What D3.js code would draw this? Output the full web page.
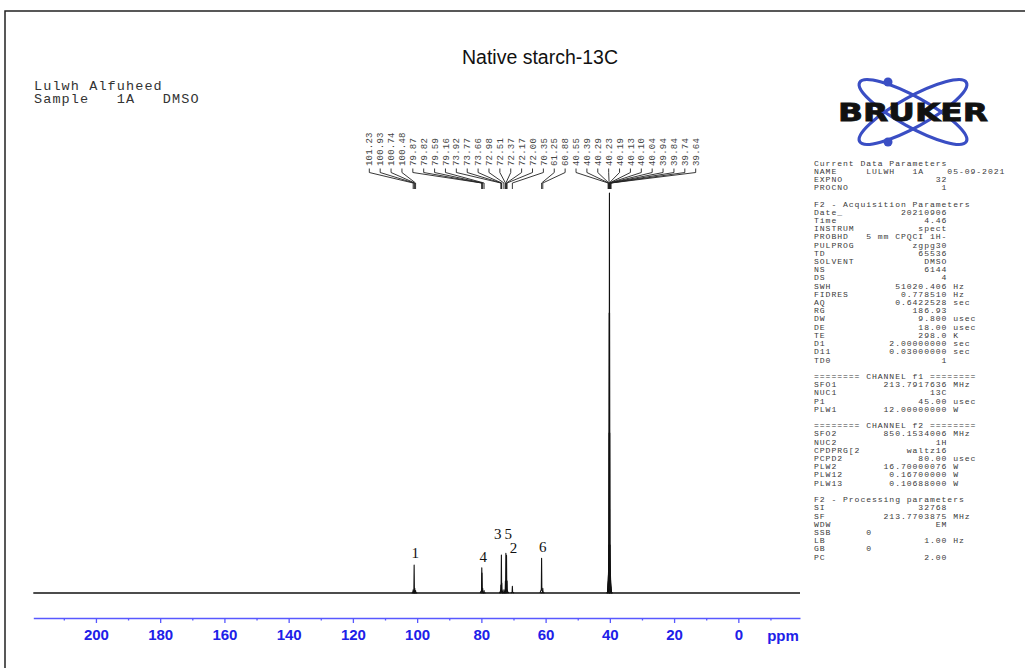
<!DOCTYPE html>
<html>
<head>
<meta charset="utf-8">
<script src="https://cdn.jsdelivr.net/npm/d3@7"></script>
<style>
  body { margin: 0; background: #fff; }
  svg text { white-space: pre; }
</style>
</head>
<body>
<div id="chart"></div>
<script>
// picked peaks (ppm) printed above the spectrum
const peakList = [101.23, 100.93, 100.74, 100.48, 79.87, 79.82, 79.59, 79.16,
  73.92, 73.77, 73.66, 72.98, 72.51, 72.37, 72.17, 72.00, 70.35, 61.25, 60.88,
  40.55, 40.39, 40.29, 40.23, 40.19, 40.13, 40.10, 40.04, 39.94, 39.84, 39.74, 39.64];
// relative intensity of each picked peak (DMSO top = 100)
const peakHeights = [0.8, 7, 1.2, 0.6, 6.3, 5, 1.2, 0.6,
  2, 9.5, 2.5, 0.8, 3, 9.9, 9.4, 3, 1.7, 8.7, 1.2,
  1, 3, 12, 40, 70, 100, 70, 40, 12, 3, 1.5, 0.8];

// carbon assignments written over the peaks
const assignLabels = ['1', '4', '3', '5', '2', '6'];
const assignPpm = [100.6, 79.4, 74.9, 71.6, 70.0, 60.9];
const assignLevel = [8.75, 7.75, 13.5, 13.5, 10, 10.25];

const majorTicks = [200, 180, 160, 140, 120, 100, 80, 60, 40, 20, 0];
const minorTicks = [210, 190, 170, 150, 130, 110, 90, 70, 50, 30, 10, -10];
const ppmRange = [219.5, -19.2];

const title = 'Native starch-13C';
const headerLines = ['Lulwh Alfuheed', 'Sample   1A   DMSO'];

// acquisition / processing parameter panel
const row = (label, value, unit) =>
  label.padEnd(23 - value.length) + value + (unit ? ' ' + unit : '');
const paramLines = [
  'Current Data Parameters',
  'NAME     LULWH   1A    05-09-2021',
  row('EXPNO', '32'),
  row('PROCNO', '1'),
  '',
  'F2 - Acquisition Parameters',
  row('Date_', '20210906'),
  row('Time', '4.46'),
  row('INSTRUM', 'spect'),
  row('PROBHD', '5 mm CPQCI 1H-'),
  row('PULPROG', 'zgpg30'),
  row('TD', '65536'),
  row('SOLVENT', 'DMSO'),
  row('NS', '6144'),
  row('DS', '4'),
  row('SWH', '51020.406', 'Hz'),
  row('FIDRES', '0.778510', 'Hz'),
  row('AQ', '0.6422528', 'sec'),
  row('RG', '186.93'),
  row('DW', '9.800', 'usec'),
  row('DE', '18.00', 'usec'),
  row('TE', '298.0', 'K'),
  row('D1', '2.00000000', 'sec'),
  row('D11', '0.03000000', 'sec'),
  row('TD0', '1'),
  '',
  '======== CHANNEL f1 ========',
  row('SFO1', '213.7917636', 'MHz'),
  row('NUC1', '13C'),
  row('P1', '45.00', 'usec'),
  row('PLW1', '12.00000000', 'W'),
  '',
  '======== CHANNEL f2 ========',
  row('SFO2', '850.1534006', 'MHz'),
  row('NUC2', '1H'),
  row('CPDPRG[2', 'waltz16'),
  row('PCPD2', '80.00', 'usec'),
  row('PLW2', '16.70000076', 'W'),
  row('PLW12', '0.16700000', 'W'),
  row('PLW13', '0.10688000', 'W'),
  '',
  'F2 - Processing parameters',
  row('SI', '32768'),
  row('SF', '213.7703875', 'MHz'),
  row('WDW', 'EM'),
  'SSB      0',
  row('LB', '1.00', 'Hz'),
  'GB       0',
  row('PC', '2.00'),
];

const width = 1025;
const height = 668;

const svg = d3.select('#chart')
    .append('svg')
    .attr('width', width)
    .attr('height', height);

svg.append('rect').attr('width', width).attr('height', height).attr('fill', '#fff');

// page frame
svg.append('path')
    .attr('d', 'M5,668 V11 H1025')
    .attr('fill', 'none')
    .attr('stroke', '#222')
    .attr('stroke-width', 1.5);

// scales
const x = d3.scaleLinear().domain(ppmRange).range([33.3, 800]);
const y = d3.scaleLinear().domain([0, 100]).range([593, 193]);

// title and header
svg.append('text')
    .attr('x', 540).attr('y', 64)
    .attr('text-anchor', 'middle')
    .attr('font-family', 'Liberation Sans, Arial, sans-serif')
    .attr('font-size', 19.5)
    .attr('fill', '#111')
    .text(title);

svg.selectAll('.header')
    .data(headerLines)
    .enter().append('text')
    .attr('class', 'header')
    .attr('x', 34)
    .attr('y', (d, i) => 90 + i * 13.3)
    .attr('font-family', 'Liberation Mono, monospace')
    .attr('font-size', 13.5)
    .attr('letter-spacing', 1.1)
    .attr('fill', '#333')
    .text((d) => d);

// spectrum baseline + peaks
const line = d3.line().x((d) => x(d[0])).y((d) => y(d[1]));
svg.append('path')
    .attr('d', line([[ppmRange[0], 0], [ppmRange[1], 0]]))
    .attr('fill', 'none')
    .attr('stroke', '#111')
    .attr('stroke-width', 1.3);

const w = 0.2;
svg.selectAll('.peak')
    .data(peakList)
    .enter().append('path')
    .attr('class', 'peak')
    .attr('d', (d, i) => line([[d + w * 2.5, 0], [d + w * 0.4, peakHeights[i] * 0.1],
      [d, peakHeights[i]], [d - w * 0.4, peakHeights[i] * 0.1], [d - w * 2.5, 0]]))
    .attr('fill', 'none')
    .attr('stroke', '#111')
    .attr('stroke-width', 1.1)
    .attr('stroke-linejoin', 'round');

// assignment numbers
svg.selectAll('.assign')
    .data(assignLabels)
    .enter().append('text')
    .attr('class', 'assign')
    .attr('x', (d, i) => x(assignPpm[i]))
    .attr('y', (d, i) => y(assignLevel[i]))
    .attr('text-anchor', 'middle')
    .attr('font-family', 'Liberation Serif, Times New Roman, serif')
    .attr('font-size', 15)
    .attr('fill', '#111')
    .text((d) => d);

// peak pick labels with connector lines
const lx = d3.scalePoint().domain(d3.range(peakList.length)).range([369.3, 695.7]);
svg.selectAll('.pick-line')
    .data(peakList)
    .enter().append('path')
    .attr('class', 'pick-line')
    .attr('d', (d, i) => `M${lx(i)},168.5 V172.5 L${x(d)},183 V189`)
    .attr('fill', 'none')
    .attr('stroke', '#222')
    .attr('stroke-width', 0.9);

svg.selectAll('.pick')
    .data(peakList)
    .enter().append('text')
    .attr('class', 'pick')
    .attr('transform', (d, i) => `translate(${lx(i)},166) rotate(-90)`)
    .attr('dy', '0.35em')
    .attr('font-family', 'Liberation Mono, monospace')
    .attr('font-size', 9)
    .attr('letter-spacing', 0.2)
    .attr('fill', '#444')
    .text((d) => d.toFixed(2));

// ppm axis
const axisG = svg.append('g').attr('transform', 'translate(0,618)');
axisG.append('g')
    .call(d3.axisBottom(x).tickValues(minorTicks).tickSize(2.5).tickSizeOuter(0).tickFormat(''))
    .call((g) => g.select('.domain').remove());
axisG.append('g')
    .call(d3.axisBottom(x).tickValues(majorTicks).tickSize(5).tickSizeOuter(0).tickPadding(6));
axisG.selectAll('.domain').attr('stroke', '#5858ff').attr('stroke-width', 1.5);
axisG.selectAll('.tick line').attr('stroke', '#5858ff').attr('stroke-width', 1.3);
axisG.selectAll('.tick text')
    .attr('font-family', 'Liberation Sans, Arial, sans-serif')
    .attr('font-size', 15)
    .attr('font-weight', 'bold')
    .attr('fill', '#2020e8');
svg.append('text')
    .attr('x', 783).attr('y', 641)
    .attr('text-anchor', 'middle')
    .attr('font-family', 'Liberation Sans, Arial, sans-serif')
    .attr('font-size', 15)
    .attr('font-weight', 'bold')
    .attr('fill', '#2020e8')
    .text('ppm');

// parameter panel
svg.selectAll('.param')
    .data(paramLines)
    .enter().append('text')
    .attr('class', 'param')
    .attr('x', 814)
    .attr('y', (d, i) => 165.5 + i * 8.21)
    .attr('font-family', 'Liberation Mono, monospace')
    .attr('font-size', 8.1)
    .attr('letter-spacing', 0.94)
    .attr('fill', '#3a3a3a')
    .text((d) => d);

// Bruker logo
const logo = svg.append('g').attr('transform', 'translate(913,112)');
[29, -29].forEach((a) => {
  logo.append('ellipse')
      .attr('rx', 61).attr('ry', 15)
      .attr('transform', `rotate(${a})`)
      .attr('fill', 'none')
      .attr('stroke', '#3a4ec4')
      .attr('stroke-width', 3.2);
});
logo.append('circle').attr('cx', -25).attr('cy', -30).attr('r', 4.5).attr('fill', '#3a4ec4');
logo.append('circle').attr('cx', -25).attr('cy', 30).attr('r', 4.5).attr('fill', '#3a4ec4');
logo.append('text')
    .attr('x', 0).attr('y', 9)
    .attr('text-anchor', 'middle')
    .attr('font-family', 'DejaVu Sans, sans-serif')
    .attr('font-weight', 'bold')
    .attr('font-size', 25)
    .attr('textLength', 150)
    .attr('lengthAdjust', 'spacingAndGlyphs')
    .attr('fill', '#111')
    .attr('stroke', '#111')
    .attr('stroke-width', 0.8)
    .text('BRUKER');
</script>
</body>
</html>
